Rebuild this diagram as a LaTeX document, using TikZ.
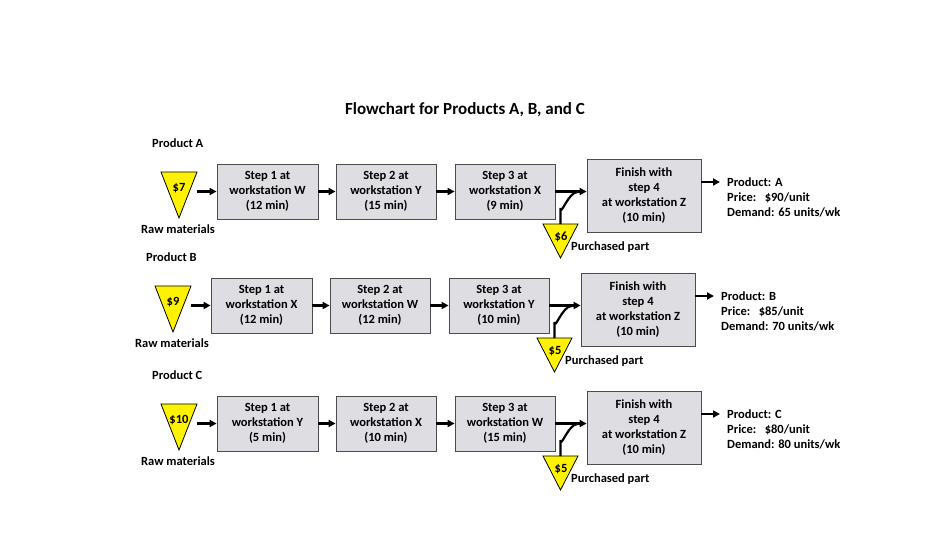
\documentclass[tikz,border=0pt]{standalone}
\usepackage{fontspec}
\setmainfont{Carlito}
\usetikzlibrary{arrows.meta}
\begin{document}
\begin{tikzpicture}[x=1pt,y=-1pt,font=\bfseries\fontsize{12.5}{15}\selectfont,
 box/.style={draw=black!70,fill=blue!8!gray!25,line width=0.8pt,inner sep=0,align=center},
 tri/.style={draw=black,fill=yellow,line width=0.8pt},
 arr/.style={line width=2.2pt,-{Triangle[length=7pt,width=7pt]}},
 lab/.style={inner sep=0}]
\useasboundingbox (0,0) rectangle (952,536);
\node[lab,font=\bfseries\fontsize{17}{19}\selectfont] (title) at (465,110) {Flowchart for Products A, B, and C};
\newcommand\myrow[9]{%
\begin{scope}[shift={(#2)}]
\node[lab,anchor=west] (#1h) at (152,143) {Product #1};
\draw[tri] (161,172) -- (197,172) -- (179,218) -- cycle;
\coordinate (#1r) at (197,195);
\node[lab] (#1rt) at (179,188) {\$#3};
\node[lab] (#1rl) at (178,229) {Raw materials};
\node[box,minimum width=101,minimum height=55] (#1s1) at (267.5,191.5) {#4};
\node[box,minimum width=100,minimum height=55] (#1s2) at (386,191.5) {#5};
\node[box,minimum width=100,minimum height=55] (#1s3) at (505,191.5) {#6};
\node[box,minimum width=114,minimum height=73] (#1s4) at (644,195.5) {Finish with\\step 4\\at workstation Z\\(10 min)};
\draw[tri] (543,224) -- (578,224) -- (560.5,258) -- cycle;
\coordinate (#1p) at (560.5,224);
\node[lab] (#1pt) at (561,237) {\$#7};
\node[lab,anchor=west] (#1pl) at (571,247) {Purchased part};
\coordinate (#1o) at (720,182);
\node[lab,anchor=west,align=left] (#1out) at (727,197) {Product: #1\\Price:\ \ \ \$#8/unit\\Demand: #9 units/wk};
\draw[arr] (#1r|-#1s1.west) -- (#1s1.west);
\draw[arr] (#1s1) -- (#1s2);
\draw[arr] (#1s2) -- (#1s3);
\draw[arr] (#1s3.east) -- (#1s3.east-|#1s4.west);
\draw[line width=2.2pt] (#1p) -- ++(0,-16) to[out=-90,in=180] ++(17,-16);
\draw[arr] (#1s4.east|-#1o) -- (#1o);
\end{scope}}
\myrow{A}{0,0}{7}{Step 1 at\\workstation W\\(12 min)}{Step 2 at\\workstation Y\\(15 min)}{Step 3 at\\workstation X\\(9 min)}{6}{90}{65}
\myrow{B}{-6,114}{9}{Step 1 at\\workstation X\\(12 min)}{Step 2 at\\workstation W\\(12 min)}{Step 3 at\\workstation Y\\(10 min)}{5}{85}{70}
\myrow{C}{0,232}{10}{Step 1 at\\workstation Y\\(5 min)}{Step 2 at\\workstation X\\(10 min)}{Step 3 at\\workstation W\\(15 min)}{5}{80}{80}
\end{tikzpicture}
\end{document}
